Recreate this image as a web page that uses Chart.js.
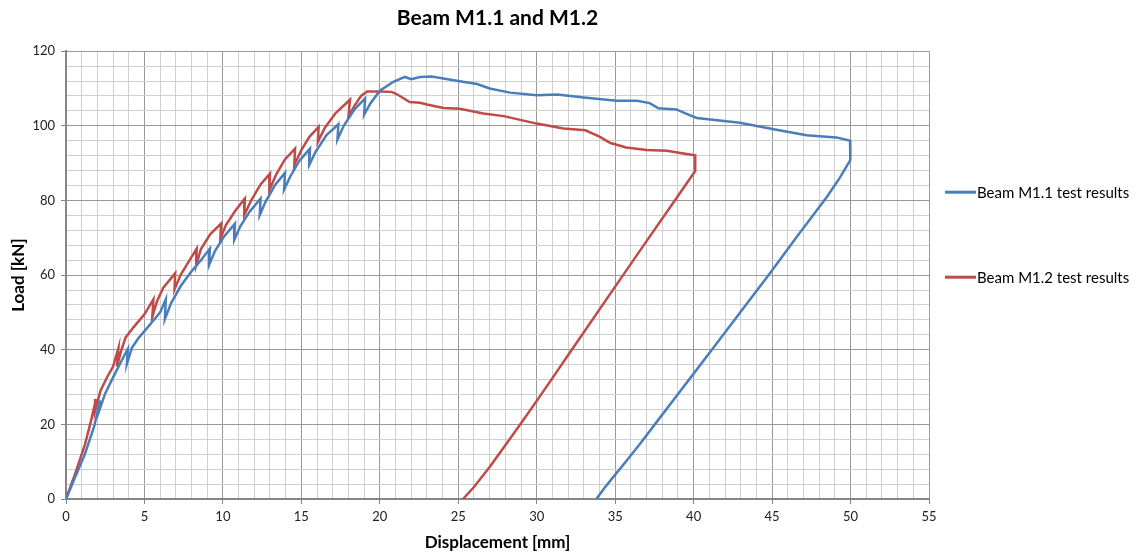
<!DOCTYPE html>
<html>
<head>
<meta charset="utf-8">
<script src="https://cdn.jsdelivr.net/npm/chart.js@4"></script>
<style>
  html, body { margin: 0; padding: 0; background: #fff; }
  #wrap { width: 1137px; height: 556px; position: relative; }
</style>
</head>
<body>
<div id="wrap"><canvas id="beamchart"></canvas></div>
<script>
// Beam M1.1 - displacement [mm] and load [kN]
const m11Disp = [
  0, 0.6, 1.2, 1.8, 2.17, 2.12, 2.5, 3.0, 3.5, 3.94, 3.88, 4.2, 4.6, 5.0, 5.5, 6.0,
  6.36, 6.3, 6.7, 7.3, 8.0, 8.6, 9.17, 9.12, 9.5, 10.1, 10.77, 10.72, 11.1, 11.7,
  12.4, 12.35, 12.7, 13.3, 13.96, 13.9, 14.3, 14.9, 15.55, 15.5, 15.9, 16.6, 17.36,
  17.3, 17.7, 18.4, 19.06, 19.0, 19.4, 20.0, 20.86, 21.6, 22.0, 22.56, 23.3, 24.05,
  24.9, 26.2, 27.0, 28.3, 30.0, 31.3, 33.0, 35.1, 36.4, 37.2, 37.75, 38.9, 39.55,
  40.2, 42.95, 45.1, 47.2, 49.1, 49.97, 50.0, 49.97, 49.3, 48.5, 46.6, 44.9, 43.0,
  41.15, 40.0, 38.8, 37.6, 36.6, 35.7, 34.9, 34.3, 33.8,
];
const m11Load = [
  0, 6, 12, 19.5, 26.4, 23.7, 28.3, 32.6, 36.7, 40.2, 36.2, 40.5, 43, 45, 47.5, 50,
  53.5, 48.2, 52.5, 57, 61, 64, 67.1, 62.7, 66.5, 70.5, 73.8, 69.4, 73, 77,
  80.5, 76.1, 79.5, 84, 87.4, 82.9, 86.5, 90.8, 93.9, 89.5, 93, 97.5, 100.4,
  96.3, 100, 104.5, 107.3, 103, 106, 109.4, 111.8, 113.1, 112.5, 113.1, 113.2, 112.7,
  112.1, 111.2, 110, 108.9, 108.2, 108.4, 107.6, 106.7, 106.7, 106.1, 104.7, 104.4, 103.2,
  102.1, 100.8, 99.1, 97.5, 96.9, 96.0, 93.5, 90.8, 86.0, 81.0, 70.4, 60.7, 50.2,
  39.9, 33.6, 27.0, 20.4, 14.9, 10.1, 6.0, 2.9, 0,
];

// Beam M1.2
const m12Disp = [
  0, 0.6, 1.2, 1.6, 1.91, 1.85, 2.2, 2.6, 3.0, 3.34, 3.25, 3.5, 3.8, 4.3, 5.0, 5.57,
  5.5, 5.8, 6.2, 6.96, 6.92, 7.3, 7.8, 8.33, 8.3, 8.6, 9.2, 9.88, 9.84, 10.2, 10.8,
  11.4, 11.36, 11.8, 12.4, 13.0, 12.96, 13.4, 13.95, 14.6, 14.55, 15.0, 15.5, 16.1,
  16.05, 16.5, 17.2, 18.1, 18.0, 18.4, 18.8, 19.2, 20.0, 20.76, 21.2, 21.9, 22.56,
  23.0, 24.05, 25.1, 26.6, 27.9, 30.0, 31.7, 33.1, 34.0, 34.7, 35.7, 37.0, 38.3,
  39.35, 40.1, 40.1, 38.9, 36.9, 34.9, 32.3, 31.0, 30.0, 29.0, 28.0, 27.0, 26.0, 25.3,
];
const m12Load = [
  0, 7, 14.5, 21, 26.8, 23.5, 29, 32.5, 35.5, 40.4, 35.5, 39.5, 43.3, 46, 49.5, 53.5,
  48.8, 53, 56.6, 60.5, 56.2, 60, 63.5, 67.1, 62.7, 67, 71, 73.8, 69.8, 73.5, 77.3,
  80.5, 76.1, 80, 84.3, 87.2, 82.8, 87, 91, 93.9, 89.5, 93.5, 97, 99.7,
  95.7, 99.5, 103.5, 107, 102.4, 105.5, 108, 109.2, 109.2, 109.1, 108.2, 106.4, 106.2,
  105.7, 104.8, 104.6, 103.3, 102.6, 100.6, 99.3, 98.8, 97.1, 95.4, 94.2, 93.5, 93.3,
  92.6, 92.1, 87.9, 80.6, 68.5, 56.3, 40.4, 32.4, 26.3, 20.3, 14.4, 8.6, 3.2, 0,
];

const seriesNames = ["Beam M1.1 test results", "Beam M1.2 test results"];
const xTicks = [0, 5, 10, 15, 20, 25, 30, 35, 40, 45, 50, 55];
const yTicks = [0, 20, 40, 60, 80, 100, 120];

const blue = "#4a7ebb";
const red = "#be4b48";
const FONT = "Lato";

function toPoints(xs, ys) {
  return xs.map((x, i) => ({ x: x, y: ys[i] }));
}

// legend drawn on the right side, entries spaced like the original
const sideLegend = {
  id: "sideLegend",
  afterDraw(chart) {
    const ctx = chart.ctx;
    const area = chart.chartArea;
    chart.data.datasets.forEach((ds, i) => {
      const x = area.right + 16;
      const y = area.top + 141 + i * 85;
      ctx.save();
      ctx.strokeStyle = ds.borderColor;
      ctx.lineWidth = 3;
      ctx.beginPath();
      ctx.moveTo(x, y);
      ctx.lineTo(x + 31, y);
      ctx.stroke();
      ctx.fillStyle = "#000";
      ctx.font = "15px " + FONT;
      ctx.textBaseline = "middle";
      ctx.fillText(ds.label, x + 32, y + 1);
      ctx.restore();
    });
  },
};

const majorGrid = "#9a9a9a";
const minorGrid = "#cfcfcf";
const axisGray = "#868686";

const ctx = document.getElementById("beamchart").getContext("2d");
const beamChart = new Chart(ctx, {
  type: "line",
  data: {
    datasets: [
      {
        label: seriesNames[0],
        data: toPoints(m11Disp, m11Load),
        borderColor: blue,
        backgroundColor: blue,
        borderWidth: 2.5,
        pointRadius: 0,
        fill: false,
        tension: 0,
      },
      {
        label: seriesNames[1],
        data: toPoints(m12Disp, m12Load),
        borderColor: red,
        backgroundColor: red,
        borderWidth: 2.5,
        pointRadius: 0,
        fill: false,
        tension: 0,
      },
    ],
  },
  options: {
    responsive: true,
    maintainAspectRatio: false,
    animation: false,
    layout: { padding: { left: 0, right: 208, top: 0, bottom: 0 } },
    plugins: {
      legend: { display: false },
      tooltip: { enabled: false },
      title: {
        display: true,
        text: "Beam M1.1 and M1.2",
        fullSize: false,
        color: "#000",
        font: { family: FONT, size: 21, weight: "bold" },
        padding: { top: 6, bottom: 20 },
      },
    },
    scales: {
      x: {
        type: "linear",
        min: 0,
        max: 55,
        afterFit: (scale) => { scale.height = 57; },
        border: { color: axisGray, width: 2 },
        grid: {
          color: (c) => (c.tick && c.tick.value % 5 === 0 ? majorGrid : minorGrid),
          tickColor: (c) => (c.tick && c.tick.value % 5 === 0 ? axisGray : "rgba(0,0,0,0)"),
          tickLength: 5,
        },
        ticks: {
          stepSize: 1,
          autoSkip: false,
          maxRotation: 0,
          padding: 5,
          color: "#222",
          font: { family: FONT, size: 13 },
          callback: (v) => (xTicks.includes(v) ? v : ""),
        },
        title: {
          display: true,
          text: "Displacement [mm]",
          color: "#000",
          font: { family: FONT, size: 17, weight: "bold" },
          padding: { top: 0, bottom: 3 },
        },
      },
      y: {
        min: 0,
        max: 120,
        afterFit: (scale) => { scale.width = 66; },
        border: { color: axisGray, width: 2 },
        grid: {
          color: (c) => (c.tick && c.tick.value % 20 === 0 ? majorGrid : minorGrid),
          tickColor: (c) => (c.tick && c.tick.value % 20 === 0 ? axisGray : "rgba(0,0,0,0)"),
          tickLength: 5,
        },
        ticks: {
          stepSize: 4,
          autoSkip: false,
          padding: 6,
          color: "#222",
          font: { family: FONT, size: 13 },
          callback: (v) => (yTicks.includes(v) ? v : ""),
        },
        title: {
          display: true,
          text: "Load [kN]",
          color: "#000",
          font: { family: FONT, size: 17, weight: "bold" },
          padding: { top: 8, bottom: 0 },
        },
      },
    },
  },
  plugins: [sideLegend],
});
</script>
</body>
</html>
